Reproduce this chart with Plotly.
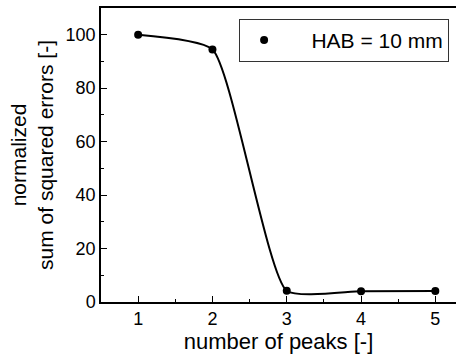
import plotly.graph_objects as go

peaks = [1, 2, 3, 4, 5]
nsse = [100, 94.5, 4.2, 4.0, 4.1]
series_name = "\u00a0\u00a0\u00a0\u00a0HAB = 10 mm"
x_title = "number of peaks [-]"
y_title = "normalized<br>sum of squared errors [-]"

fig = go.Figure()
fig.add_trace(go.Scatter(x=peaks, y=nsse, mode="lines", line=dict(color="black", width=2, shape="spline", smoothing=0.5), showlegend=False, hoverinfo="skip"))
fig.add_trace(go.Scatter(x=peaks, y=nsse, mode="markers", marker=dict(color="black", size=8), name=series_name))

font = "Liberation Sans, Arial, sans-serif"
fig.update_layout(
    width=456, height=361,
    margin=dict(l=101, r=0, t=8, b=59),
    paper_bgcolor="white", plot_bgcolor="white",
    font=dict(family=font, color="black", size=16),
    showlegend=True,
    legend=dict(x=0.389, y=0.963, xanchor="left", yanchor="top", bordercolor="#333", borderwidth=1,
                font=dict(size=21), itemwidth=38, bgcolor="white", tracegroupgap=0),
)
fig.update_xaxes(range=[0.5, 5.278], tickvals=peaks, ticks="inside", ticklen=6, tickwidth=1, tickcolor="black",
                 showline=True, linecolor="black", linewidth=1.5, mirror=True, showgrid=False, zeroline=False,
                 minor=dict(ticks="inside", ticklen=3, dtick=0.5, tick0=0.5, tickcolor="black"),
                 title=dict(text=x_title, font=dict(size=22), standoff=4), tickfont=dict(size=18, color="black"))
fig.update_yaxes(range=[0, 110], tickvals=[0, 20, 40, 60, 80, 100], ticks="inside", ticklen=6, tickwidth=1, tickcolor="black",
                 showline=True, linecolor="black", linewidth=1.5, showgrid=False, zeroline=False,
                 minor=dict(ticks="inside", ticklen=3, dtick=10, tickcolor="black"),
                 title=dict(text=y_title, font=dict(size=21), standoff=6), tickfont=dict(size=18, color="black"))
fig.write_html("out.html")
